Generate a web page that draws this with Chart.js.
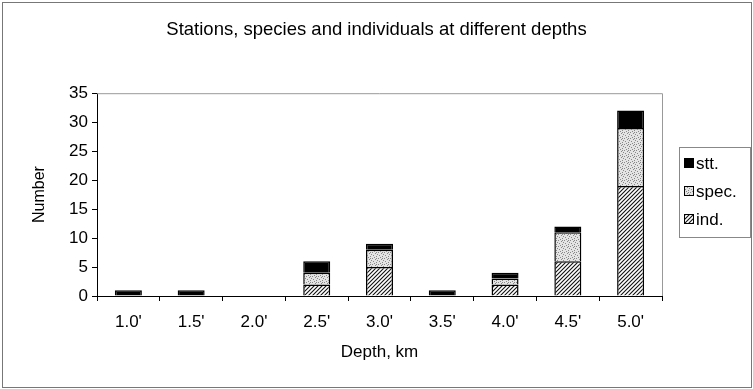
<!doctype html>
<html lang="en">
<head>
    <meta charset="UTF-8">
    <title>Stations, species and individuals at different depths</title>
    <script src="https://cdn.jsdelivr.net/npm/chart.js"></script>
    <style>
        body { margin: 0; background: #fff; }
        #wrap { width: 753px; height: 389px; }
    </style>
</head>
<body>
<div id="wrap"><canvas id="myChart" width="753" height="389"></canvas></div>

<script>
    var depths = ["1.0'", "1.5'", "2.0'", "2.5'", "3.0'", "3.5'", "4.0'", "4.5'", "5.0'"];
    var indValues = [0, 0, 0, 2, 5, 0, 2, 6, 19];
    var specValues = [0, 0, 0, 2, 3, 0, 1, 5, 10];
    var sttValues = [1, 1, 0, 2, 1, 1, 1, 1, 3];
    var yTicks = [0, 5, 10, 15, 20, 25, 30, 35];

    var FONT = "'Liberation Sans', Arial, sans-serif";

    // hatched fill for "ind."
    function hatchPattern() {
        var c = document.createElement('canvas');
        c.width = 4; c.height = 4;
        var g = c.getContext('2d');
        g.fillStyle = '#fff';
        g.fillRect(0, 0, 4, 4);
        g.strokeStyle = '#111';
        g.lineWidth = 1.1;
        g.beginPath();
        g.moveTo(-1, 5); g.lineTo(5, -1);
        g.moveTo(-1, 1); g.lineTo(1, -1);
        g.moveTo(3, 5); g.lineTo(5, 3);
        g.stroke();
        return g.createPattern(c, 'repeat');
    }

    // stippled light grey for "spec."
    function dotPattern() {
        var c = document.createElement('canvas');
        c.width = 6; c.height = 6;
        var g = c.getContext('2d');
        g.fillStyle = '#e4e4e4';
        g.fillRect(0, 0, 6, 6);
        g.fillStyle = '#888';
        [[0, 0], [3, 1], [1, 3], [4, 4], [5, 2], [2, 5], [4, 0]].forEach(function (p) {
            g.fillRect(p[0], p[1], 1, 1);
        });
        return g.createPattern(c, 'repeat');
    }

    var frame = {
        id: 'frame',
        afterDraw: function (chart) {
            var g = chart.ctx, a = chart.chartArea;
            g.save();
            // outer border
            g.strokeStyle = '#777';
            g.lineWidth = 1;
            g.strokeRect(2.5, 2.5, chart.width - 4, chart.height - 4);
            // plot area border (top and right)
            g.strokeStyle = '#999';
            g.beginPath();
            g.moveTo(a.left, a.top + 0.5);
            g.lineTo(a.right + 0.5, a.top + 0.5);
            g.lineTo(a.right + 0.5, a.bottom);
            g.stroke();

            // legend, stt on top
            var lx = 679, ly = 147, lw = 71, lh = 90;
            g.strokeStyle = '#888';
            g.strokeRect(lx + 0.5, ly + 0.5, lw, lh);
            var sets = chart.data.datasets.slice().reverse();
            g.font = '17px ' + FONT;
            g.textBaseline = 'middle';
            sets.forEach(function (ds, i) {
                var y = ly + 16 + i * 28;
                g.fillStyle = ds.backgroundColor;
                g.fillRect(lx + 5, y - 5, 10, 10);
                g.strokeStyle = '#000';
                g.strokeRect(lx + 5.5, y - 4.5, 9, 9);
                g.fillStyle = '#000';
                g.fillText(ds.label, lx + 17, y + 1);
            });
            g.restore();
        }
    };

    var ctx = document.getElementById('myChart');

    var myChart = new Chart(ctx, {
        type: 'bar',
        data: {
            labels: depths,
            datasets: [{
                label: 'ind.',
                data: indValues,
                backgroundColor: hatchPattern(),
                borderColor: '#000',
                borderWidth: 1.5
            }, {
                label: 'spec.',
                data: specValues,
                backgroundColor: dotPattern(),
                borderColor: '#000',
                borderWidth: 1.5
            }, {
                label: 'stt.',
                data: sttValues,
                backgroundColor: '#000',
                borderColor: '#000',
                borderWidth: 1.5
            }]
        },
        options: {
            responsive: false,
            animation: false,
            layout: { padding: 0 },
            datasets: { bar: { barPercentage: 0.43, categoryPercentage: 1 } },
            plugins: {
                legend: { display: false },
                tooltip: { enabled: false },
                title: {
                    display: true,
                    text: 'Stations, species and individuals at different depths',
                    color: '#000',
                    font: { family: FONT, size: 18.5, weight: 'normal' },
                    padding: { top: 19, bottom: 52 }
                }
            },
            scales: {
                x: {
                    stacked: true,
                    afterFit: function (s) { s.height = 93; },
                    border: { color: '#000', width: 1 },
                    grid: { offset: true, drawOnChartArea: false, drawTicks: true, tickLength: 5, color: '#000' },
                    ticks: { color: '#000', padding: 11, font: { family: FONT, size: 17 } },
                    title: {
                        display: true, text: 'Depth, km', color: '#000',
                        font: { family: FONT, size: 17 },
                        padding: { top: 0, bottom: 26 }
                    }
                },
                y: {
                    stacked: true,
                    min: 0, max: 35,
                    afterFit: function (s) { s.width = 97; },
                    afterBuildTicks: function (s) {
                        s.ticks = yTicks.map(function (v) { return { value: v }; });
                    },
                    border: { color: '#000', width: 1 },
                    grid: { drawOnChartArea: false, drawTicks: true, tickLength: 5, color: '#000' },
                    ticks: { color: '#000', padding: 4, font: { family: FONT, size: 17 } },
                    title: {
                        display: true, text: 'Number', color: '#000',
                        font: { family: FONT, size: 16 },
                        padding: { top: 30, bottom: 0 }
                    }
                },
                // empty axis that keeps room for the legend on the right
                side: {
                    position: 'right',
                    min: 0, max: 1,
                    afterFit: function (s) { s.width = 91; },
                    border: { display: false },
                    grid: { display: false },
                    ticks: { display: false }
                }
            }
        },
        plugins: [frame]
    });
</script>
</body>
</html>
